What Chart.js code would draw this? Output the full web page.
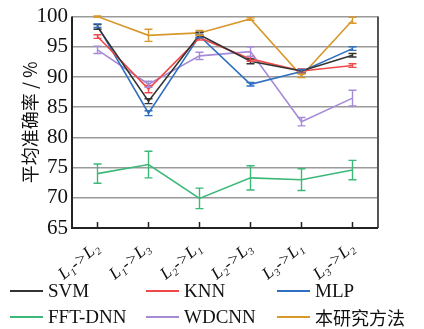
<!DOCTYPE html>
<html><head><meta charset="utf-8">
<script src="https://cdn.jsdelivr.net/npm/chart.js@4/dist/chart.umd.min.js"></script>
<style>
html,body{margin:0;padding:0;background:#fff;}
#wrap{position:relative;width:424px;height:329px;}
#c{position:absolute;left:0;top:0;}
#legend{position:absolute;left:0;top:279px;width:424px;font-family:"Liberation Serif",serif;font-size:19px;color:#111;}
.item{position:absolute;display:flex;align-items:center;height:24px;white-space:nowrap;}
.sw{display:inline-block;width:33px;height:2px;margin-right:5px;}
</style></head>
<body><div id="wrap"><canvas id="c" width="424" height="280"></canvas><div id="legend"></div></div>
<script>
const categories = ["L₁->L₂","L₁->L₃","L₂->L₁","L₂->L₃","L₃->L₁","L₃->L₂"];
const seriesNames = ["SVM","KNN","MLP","FFT-DNN","WDCNN","本研究方法"];
const svm    = [98.3, 86.0, 97.0, 92.6, 91.0, 93.6];
const knn    = [96.7, 88.0, 96.5, 93.0, 91.0, 91.9];
const mlp    = [98.5, 84.0, 96.8, 88.8, 90.9, 94.7];
const fftdnn = [74.0, 75.5, 69.9, 73.3, 73.0, 74.6];
const wdcnn  = [94.5, 88.8, 93.5, 94.2, 82.6, 86.5];
const ours   = [100.0, 96.9, 97.3, 99.6, 90.2, 99.4];
const svmErr    = [0.4, 0.4, 0.4, 0.4, 0.3, 0.3];
const knnErr    = [0.3, 0.6, 0.4, 0.4, 0.3, 0.3];
const mlpErr    = [0.3, 0.4, 0.3, 0.3, 0.3, 0.3];
const fftdnnErr = [1.6, 2.2, 1.7, 2.0, 1.8, 1.6];
const wdcnnErr  = [0.6, 0.5, 0.6, 0.8, 0.7, 1.3];
const oursErr   = [0.1, 1.0, 0.4, 0.2, 0.3, 0.5];
const yTicks = [65,70,75,80,85,90,95,100];

const colors = ["#333333","#f04848","#2f6fc0","#3cb878","#a58ad6","#d8982c"];
const values = [svm,knn,mlp,fftdnn,wdcnn,ours];
const errs = [svmErr,knnErr,mlpErr,fftdnnErr,wdcnnErr,oursErr];

const serif = "'Liberation Serif', serif";

const errorBars = {
  id:'errorBars',
  afterDatasetsDraw(chart){
    const ctx = chart.ctx, x = chart.scales.x, y = chart.scales.y;
    chart.data.datasets.forEach((ds,di)=>{
      const e = errs[di];
      ctx.save();
      ctx.strokeStyle = ds.borderColor; ctx.lineWidth = 1.4;
      ds.data.forEach((v,i)=>{
        const px = x.getPixelForValue(i);
        const top = y.getPixelForValue(v+e[i]), bot = y.getPixelForValue(v-e[i]);
        ctx.beginPath();
        ctx.moveTo(px,top); ctx.lineTo(px,bot);
        ctx.moveTo(px-4,top); ctx.lineTo(px+4,top);
        ctx.moveTo(px-4,bot); ctx.lineTo(px+4,bot);
        ctx.stroke();
      });
      ctx.restore();
    });
  }
};
const frame = {
  id:'frame',
  beforeDatasetsDraw(chart){
    const ctx = chart.ctx, a = chart.chartArea, x = chart.scales.x;
    ctx.save();
    ctx.strokeStyle = '#555'; ctx.lineWidth = 2;
    ctx.beginPath(); ctx.moveTo(a.right,a.top); ctx.lineTo(a.right,a.bottom); ctx.stroke();
    ctx.strokeStyle = '#222'; ctx.lineWidth = 2;
    ctx.beginPath(); ctx.moveTo(a.left,a.top); ctx.lineTo(a.left,a.bottom); ctx.lineTo(a.right,a.bottom); ctx.stroke();
    ctx.lineWidth = 1.5;
    for(let i=0;i<categories.length;i++){
      const px = x.getPixelForValue(i);
      ctx.beginPath(); ctx.moveTo(px,a.bottom); ctx.lineTo(px,a.bottom-6); ctx.stroke();
    }
    ctx.restore();
  }
};

new Chart(document.getElementById('c'),{
  type:'line',
  data:{labels:categories,datasets:seriesNames.map((n,i)=>({label:n,data:values[i],borderColor:colors[i],backgroundColor:colors[i],borderWidth:1.6,pointRadius:0,tension:0,fill:false}))},
  options:{
    responsive:false,animation:false,
    layout:{padding:{top:15,right:46,left:0,bottom:0}},
    plugins:{legend:{display:false},tooltip:{enabled:false}},
    scales:{
      x:{offset:true,grid:{display:false},border:{display:false},
        afterFit(s){s.height=52;},
        ticks:{color:'#111',font:{family:serif,size:17,style:'italic'},maxRotation:40,minRotation:40,padding:2}},
      y:{min:65,max:100,afterBuildTicks(s){s.ticks=yTicks.map(v=>({value:v}));},
        afterFit(s){s.width=72;},
        grid:{color:'#9a9a9a',lineWidth:1.5,drawTicks:false},border:{display:false},
        ticks:{color:'#111',font:{family:serif,size:21},padding:4},
        title:{display:true,text:'平均准确率 / %',color:'#111',font:{family:"'Noto Sans CJK SC', sans-serif",size:18},padding:{top:19,bottom:0}}}
    }
  },
  plugins:[frame,errorBars]
});

const leg = document.getElementById('legend');
const pos = [[10,0],[146,0],[277,0],[10,26],[146,26],[277,26]];
seriesNames.forEach((n,i)=>{
  const d = document.createElement('div'); d.className='item';
  d.style.left = pos[i][0]+'px'; d.style.top = pos[i][1]+'px';
  const s = document.createElement('span'); s.className='sw'; s.style.background = colors[i];
  const t = document.createElement('span'); t.textContent = n;
  if(i===5){t.style.fontFamily="'Noto Sans CJK SC', serif"; t.style.fontSize='18px';}
  d.appendChild(s); d.appendChild(t); leg.appendChild(d);
});
</script></body></html>
